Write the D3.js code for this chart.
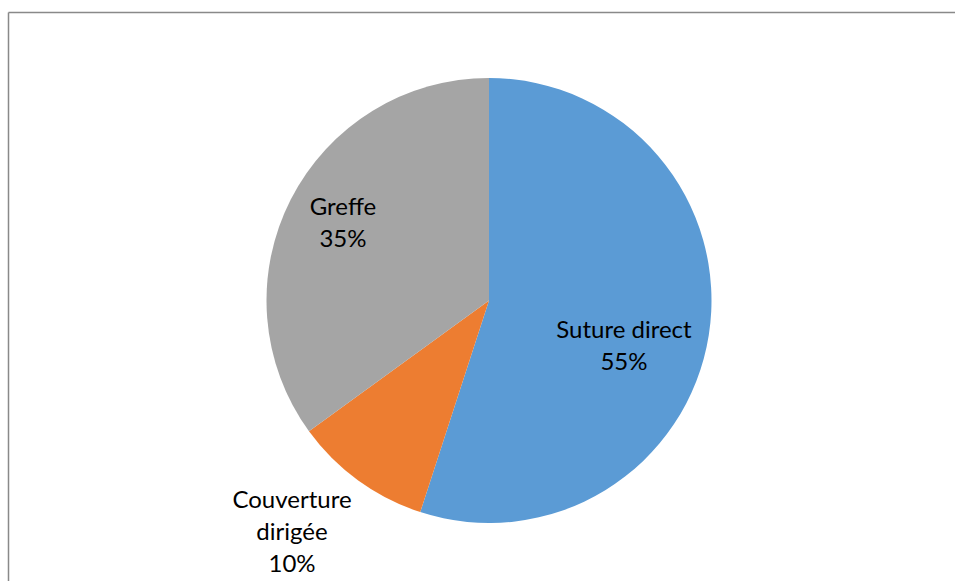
<!DOCTYPE html>
<html>
<head>
<meta charset="utf-8">
<script src="https://cdn.jsdelivr.net/npm/d3@7"></script>
<style>
  html, body { margin: 0; padding: 0; background: #ffffff; }
  svg { display: block; }
</style>
</head>
<body>
<svg id="chart" width="955" height="581"></svg>
<script>
// Répartition des techniques de réparation
const categories = ["Suture direct", "Couverture dirigée", "Greffe"];
const values = [55, 10, 35];
const labelLines = [["Suture direct", "55%"], ["Couverture", "dirigée", "10%"], ["Greffe", "35%"]];
const colors = ["#5B9BD5", "#ED7D31", "#A5A5A5"];

const svg = d3.select("#chart");
const W = 955, H = 581;

// Chart frame (top and left edges visible)
svg.append("line").attr("x1", 8.5).attr("y1", 12.5).attr("x2", W).attr("y2", 12.5)
  .attr("stroke", "#898989").attr("stroke-width", 1.5);
svg.append("line").attr("x1", 8.5).attr("y1", 12.5).attr("x2", 8.5).attr("y2", H)
  .attr("stroke", "#898989").attr("stroke-width", 1.5);

const cx = 489, cy = 300.5, r = 222.5;
const g = svg.append("g").attr("transform", `translate(${cx},${cy})`);

const pie = d3.pie().sort(null).value(d => d.value);
const data = categories.map((c, i) => ({ name: c, value: values[i], lines: labelLines[i], color: colors[i] }));
const arcs = pie(data);
const arc = d3.arc().innerRadius(0).outerRadius(r);

g.selectAll("path.slice").data(arcs).enter().append("path")
  .attr("class", "slice")
  .attr("d", arc)
  .attr("fill", d => d.data.color);

// Label placement: radius factor and angular shift (degrees) from each slice's mid-angle
const labelRadius = [0.64, 1.366, 0.744];
const labelShift = [9.6, 4.4, 1.1];

const lineH = 32;
arcs.forEach((d, i) => {
  const mid = (d.startAngle + d.endAngle) / 2 + labelShift[i] * Math.PI / 180;
  const [x, y] = d3.pointRadial(mid, r * labelRadius[i]);
  const n = d.data.lines.length;
  const t = g.append("text")
    .attr("text-anchor", "middle")
    .attr("font-family", "Lato, 'Open Sans', sans-serif")
    .attr("font-size", 24)
    .attr("fill", "#000");
  d.data.lines.forEach((ln, k) => {
    t.append("tspan")
      .attr("x", x)
      .attr("y", y + (k - (n - 1) / 2) * lineH)
      .attr("dy", "0.35em")
      .text(ln);
  });
});
</script>
</body>
</html>
